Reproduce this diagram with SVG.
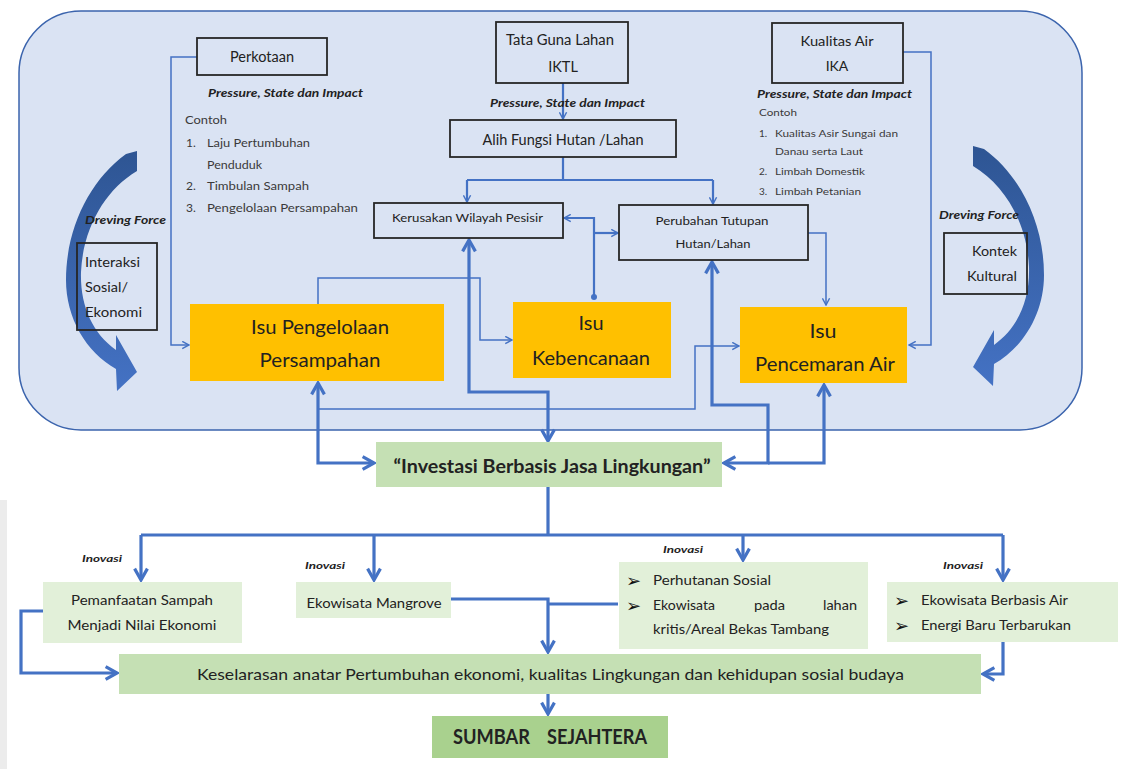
<svg xmlns="http://www.w3.org/2000/svg" width="1127" height="769" viewBox="0 0 1127 769">
  <defs>
    <style>
      .t { font-family: Lato, "Open Sans", "Liberation Sans", sans-serif; fill: #222; }
      .sm { fill: #3a3a3a; }
      .pi { font-weight: bold; font-style: italic; font-size: 12px; fill: #222; }
      .box { fill: none; stroke: #262626; stroke-width: 1.8; }
      .orange { fill: #ffc000; }
      .green { fill: #c5e0b4; }
      .lgreen { fill: #e2f0d9; }
      .dgreen { fill: #a9d18e; }
      .c1 { fill: none; stroke: #4472c4; stroke-width: 1.5; }
      .c2 { fill: none; stroke: #4472c4; stroke-width: 2.2; }
      .c3 { fill: none; stroke: #4472c4; stroke-width: 3.2; }
      .bul { font-family: "DejaVu Sans", sans-serif; font-size: 18px; font-weight: bold; fill: #111; }
    </style>
    <marker id="ah1" viewBox="0 0 10 10" refX="9" refY="5" markerWidth="9" markerHeight="9" orient="auto-start-reverse" markerUnits="userSpaceOnUse">
      <path d="M1.5,1 L9,5 L1.5,9" fill="none" stroke="#4472c4" stroke-width="1.6"/>
    </marker>
    <marker id="ah3" viewBox="0 0 10 10" refX="8.6" refY="5" markerWidth="16" markerHeight="16" orient="auto-start-reverse" markerUnits="userSpaceOnUse">
      <path d="M1.5,1 L8.6,5 L1.5,9" fill="none" stroke="#4472c4" stroke-width="2"/>
    </marker>
    <linearGradient id="bend" x1="0" y1="0" x2="0" y2="1">
      <stop offset="0" stop-color="#2e5593"/>
      <stop offset="1" stop-color="#4472c4"/>
    </linearGradient>
  </defs>

  <rect width="1127" height="769" fill="#ffffff"/>
  <rect x="0" y="500" width="7" height="269" fill="#ececec"/>

  <!-- frame around the issue area -->
  <rect id="frame" x="19" y="11" width="1063" height="419" rx="62" fill="#dae3f3" stroke="#3b64ad" stroke-width="1.5"/>

  <!-- driving force bends -->
  <g id="driving-left">
    <path d="M126,154 L137,151 L137,171 C105,190 83,228 81,272 C80,305 92,333 116,350 L116,335 L137,372 L117,391 L116,369 C86,352 66,318 66,280 C66,228 90,180 126,154 Z" fill="url(#bend)"/>
    <text class="t pi" x="85" y="224" textLength="81" lengthAdjust="spacingAndGlyphs">Dreving Force</text>
  </g>
  <g id="driving-right">
    <path d="M126,154 L137,151 L137,171 C105,190 83,228 81,272 C80,305 92,333 116,350 L116,335 L137,372 L117,391 L116,369 C86,352 66,318 66,280 C66,228 90,180 126,154 Z" fill="url(#bend)" transform="matrix(-1 0 0 1 1110 -5)"/>
    <text class="t pi" x="939" y="219" textLength="80" lengthAdjust="spacingAndGlyphs">Dreving Force</text>
  </g>

  <!-- connectors -->
  <g id="connectors">
    <path class="c1" d="M197,57 H171 V345 H189" marker-end="url(#ah1)"/>
    <path class="c2" d="M563,83 V119" marker-end="url(#ah1)"/>
    <path class="c2" d="M563,157 V180 M467,180 H713"/>
    <path class="c2" d="M467,180 V202" marker-end="url(#ah1)"/>
    <path class="c2" d="M713,180 V204" marker-end="url(#ah1)"/>
    <path class="c1" d="M903,52 H931 V345 H909" marker-end="url(#ah1)"/>
    <path class="c1" d="M808,233 H826 V305" marker-end="url(#ah1)"/>
    <path class="c1" d="M318,304 V278 H480 V340 H512" marker-end="url(#ah1)"/>
    <path class="c1" d="M318,409 H695 V346 H739" marker-end="url(#ah1)"/>
    <path class="c2" d="M594,297 V218 H564" marker-end="url(#ah1)"/>
    <path class="c2" d="M594,233 H618" marker-end="url(#ah1)"/>
    <circle cx="594" cy="297" r="3" fill="#4472c4"/>
    <path class="c3" d="M469,240 V392 H548 V441" marker-start="url(#ah3)" marker-end="url(#ah3)"/>
    <path class="c3" d="M712,262 V405 H768 V463 H724" marker-start="url(#ah3)" marker-end="url(#ah3)"/>
    <path class="c3" d="M824,385 V463 H768" marker-start="url(#ah3)"/>
    <path class="c3" d="M318,383 V463 H374" marker-start="url(#ah3)" marker-end="url(#ah3)"/>
    <path class="c3" d="M548,487 V535 M141,535 H1003"/>
    <path class="c3" d="M141,535 V580" marker-end="url(#ah3)"/>
    <path class="c3" d="M374,535 V580" marker-end="url(#ah3)"/>
    <path class="c3" d="M743,535 V560" marker-end="url(#ah3)"/>
    <path class="c3" d="M1003,535 V580" marker-end="url(#ah3)"/>
    <path class="c3" d="M43,611 H21 V673 H117" marker-end="url(#ah3)"/>
    <path class="c3" d="M451,599 H548 V652" marker-end="url(#ah3)"/>
    <path class="c3" d="M618,604 H548"/>
    <path class="c3" d="M1003,642 V674 H983" marker-end="url(#ah3)"/>
    <path class="c3" d="M548,694 V714" marker-end="url(#ah3)"/>
  </g>

  <!-- source nodes -->
  <g id="perkotaan">
    <rect class="box" x="197" y="38" width="130" height="37"/>
    <text class="t" x="262" y="62" font-size="14.5" text-anchor="middle" textLength="64" lengthAdjust="spacingAndGlyphs">Perkotaan</text>
  </g>
  <g id="perkotaan-notes">
    <text class="t pi" x="208" y="97" textLength="155" lengthAdjust="spacingAndGlyphs">Pressure, State dan Impact</text>
    <text class="t sm" x="185" y="124" font-size="12" textLength="42" lengthAdjust="spacingAndGlyphs">Contoh</text>
    <text class="t sm" x="186" y="147" font-size="12">1.</text>
    <text class="t sm" x="207" y="147" font-size="12" textLength="103" lengthAdjust="spacingAndGlyphs">Laju Pertumbuhan</text>
    <text class="t sm" x="207" y="169" font-size="12" textLength="55" lengthAdjust="spacingAndGlyphs">Penduduk</text>
    <text class="t sm" x="186" y="190" font-size="12">2.</text>
    <text class="t sm" x="207" y="190" font-size="12" textLength="102" lengthAdjust="spacingAndGlyphs">Timbulan Sampah</text>
    <text class="t sm" x="186" y="212" font-size="12">3.</text>
    <text class="t sm" x="207" y="212" font-size="12" textLength="151" lengthAdjust="spacingAndGlyphs">Pengelolaan Persampahan</text>
  </g>

  <g id="tata-guna-lahan">
    <rect class="box" x="496" y="22" width="132" height="61"/>
    <text class="t" x="560" y="45" font-size="14.5" text-anchor="middle" textLength="108" lengthAdjust="spacingAndGlyphs">Tata Guna Lahan</text>
    <text class="t" x="563" y="72" font-size="14.5" text-anchor="middle">IKTL</text>
  </g>
  <text class="t pi" x="490" y="107" textLength="155" lengthAdjust="spacingAndGlyphs">Pressure, State dan Impact</text>

  <g id="alih-fungsi">
    <rect class="box" x="450" y="120" width="226" height="37"/>
    <text class="t" x="563" y="145" font-size="14.5" text-anchor="middle" textLength="161" lengthAdjust="spacingAndGlyphs">Alih Fungsi Hutan /Lahan</text>
  </g>

  <g id="kerusakan-pesisir">
    <rect class="box" x="374" y="203" width="189" height="35"/>
    <text class="t" x="392" y="222" font-size="12" textLength="151" lengthAdjust="spacingAndGlyphs">Kerusakan Wilayah Pesisir</text>
  </g>

  <g id="perubahan-tutupan">
    <rect class="box" x="619" y="205" width="189" height="55"/>
    <text class="t" x="712" y="225" font-size="12" text-anchor="middle" textLength="113" lengthAdjust="spacingAndGlyphs">Perubahan Tutupan</text>
    <text class="t" x="713" y="248" font-size="12" text-anchor="middle" textLength="75" lengthAdjust="spacingAndGlyphs">Hutan/Lahan</text>
  </g>

  <g id="kualitas-air">
    <rect class="box" x="772" y="23" width="131" height="60"/>
    <text class="t" x="837" y="46" font-size="14" text-anchor="middle" textLength="73" lengthAdjust="spacingAndGlyphs">Kualitas Air</text>
    <text class="t" x="837" y="71" font-size="14" text-anchor="middle">IKA</text>
  </g>
  <g id="kualitas-air-notes">
    <text class="t pi" x="757" y="98" textLength="155" lengthAdjust="spacingAndGlyphs">Pressure, State dan Impact</text>
    <text class="t sm" x="759" y="116" font-size="10" textLength="38" lengthAdjust="spacingAndGlyphs">Contoh</text>
    <text class="t sm" x="759" y="137" font-size="10">1.</text>
    <text class="t sm" x="775" y="137" font-size="10" textLength="123" lengthAdjust="spacingAndGlyphs">Kualitas Asir Sungai dan</text>
    <text class="t sm" x="775" y="155" font-size="10" textLength="88" lengthAdjust="spacingAndGlyphs">Danau serta Laut</text>
    <text class="t sm" x="759" y="175" font-size="10">2.</text>
    <text class="t sm" x="775" y="175" font-size="10" textLength="90" lengthAdjust="spacingAndGlyphs">Limbah Domestik</text>
    <text class="t sm" x="759" y="195" font-size="10">3.</text>
    <text class="t sm" x="775" y="195" font-size="10" textLength="86" lengthAdjust="spacingAndGlyphs">Limbah Petanian</text>
  </g>

  <g id="interaksi">
    <rect class="box" x="77" y="243" width="80" height="87"/>
    <text class="t" x="85" y="267" font-size="14" textLength="55" lengthAdjust="spacingAndGlyphs">Interaksi</text>
    <text class="t" x="85" y="292" font-size="14" textLength="43" lengthAdjust="spacingAndGlyphs">Sosial/</text>
    <text class="t" x="85" y="317" font-size="14" textLength="57" lengthAdjust="spacingAndGlyphs">Ekonomi</text>
  </g>

  <g id="kontek-kultural">
    <rect class="box" x="944" y="233" width="83" height="61"/>
    <text class="t" x="1017" y="256" font-size="14" text-anchor="end" textLength="45" lengthAdjust="spacingAndGlyphs">Kontek</text>
    <text class="t" x="1017" y="281" font-size="14" text-anchor="end" textLength="50" lengthAdjust="spacingAndGlyphs">Kultural</text>
  </g>

  <!-- issues -->
  <g id="isu-persampahan">
    <rect class="orange" x="190" y="304" width="254" height="77"/>
    <text class="t" x="320" y="334" font-size="20" text-anchor="middle" textLength="138" lengthAdjust="spacingAndGlyphs">Isu Pengelolaan</text>
    <text class="t" x="320" y="367" font-size="20" text-anchor="middle" textLength="121" lengthAdjust="spacingAndGlyphs">Persampahan</text>
  </g>
  <g id="isu-kebencanaan">
    <rect class="orange" x="513" y="302" width="158" height="76"/>
    <text class="t" x="591" y="330" font-size="20" text-anchor="middle" textLength="25" lengthAdjust="spacingAndGlyphs">Isu</text>
    <text class="t" x="591" y="365" font-size="20" text-anchor="middle" textLength="118" lengthAdjust="spacingAndGlyphs">Kebencanaan</text>
  </g>
  <g id="isu-pencemaran">
    <rect class="orange" x="740" y="307" width="167" height="76"/>
    <text class="t" x="823" y="338" font-size="20" text-anchor="middle" textLength="27" lengthAdjust="spacingAndGlyphs">Isu</text>
    <text class="t" x="825" y="371" font-size="20" text-anchor="middle" textLength="140" lengthAdjust="spacingAndGlyphs">Pencemaran Air</text>
  </g>

  <g id="investasi">
    <rect class="green" x="376" y="442" width="346" height="45"/>
    <text class="t" x="552" y="473" font-size="19" font-weight="bold" text-anchor="middle" textLength="317" lengthAdjust="spacingAndGlyphs">“Investasi Berbasis Jasa Lingkungan”</text>
  </g>

  <!-- innovations -->
  <g id="inovasi-sampah">
    <text class="t pi" x="82" y="562" style="font-size:10px" textLength="40" lengthAdjust="spacingAndGlyphs">Inovasi</text>
    <rect class="lgreen" x="43" y="582" width="199" height="61"/>
    <text class="t" x="142" y="605" font-size="14" text-anchor="middle" textLength="142" lengthAdjust="spacingAndGlyphs">Pemanfaatan Sampah</text>
    <text class="t" x="142" y="630" font-size="14" text-anchor="middle" textLength="149" lengthAdjust="spacingAndGlyphs">Menjadi Nilai Ekonomi</text>
  </g>
  <g id="inovasi-mangrove">
    <text class="t pi" x="305" y="569" style="font-size:10px" textLength="40" lengthAdjust="spacingAndGlyphs">Inovasi</text>
    <rect class="lgreen" x="296" y="582" width="155" height="36"/>
    <text class="t" x="374" y="608" font-size="14" text-anchor="middle" textLength="135" lengthAdjust="spacingAndGlyphs">Ekowisata Mangrove</text>
  </g>
  <g id="inovasi-hutan">
    <text class="t pi" x="663" y="553" style="font-size:10px" textLength="40" lengthAdjust="spacingAndGlyphs">Inovasi</text>
    <rect class="lgreen" x="619" y="562" width="249" height="87"/>
    <text class="bul" x="626" y="587">➢</text>
    <text class="t" x="653" y="585" font-size="13.5" textLength="118" lengthAdjust="spacingAndGlyphs">Perhutanan Sosial</text>
    <text class="bul" x="626" y="612">➢</text>
    <text class="t" x="653" y="610" font-size="13.5" textLength="62" lengthAdjust="spacingAndGlyphs">Ekowisata</text>
    <text class="t" x="754" y="610" font-size="13.5" textLength="31" lengthAdjust="spacingAndGlyphs">pada</text>
    <text class="t" x="857" y="610" font-size="13.5" text-anchor="end" textLength="34" lengthAdjust="spacingAndGlyphs">lahan</text>
    <text class="t" x="653" y="634" font-size="13.5" textLength="176" lengthAdjust="spacingAndGlyphs">kritis/Areal Bekas Tambang</text>
  </g>
  <g id="inovasi-air">
    <text class="t pi" x="943" y="569" style="font-size:10px" textLength="40" lengthAdjust="spacingAndGlyphs">Inovasi</text>
    <rect class="lgreen" x="887" y="582" width="231" height="60"/>
    <text class="bul" x="894" y="607">➢</text>
    <text class="t" x="921" y="605" font-size="13.5" textLength="147" lengthAdjust="spacingAndGlyphs">Ekowisata Berbasis Air</text>
    <text class="bul" x="894" y="632">➢</text>
    <text class="t" x="921" y="630" font-size="13.5" textLength="150" lengthAdjust="spacingAndGlyphs">Energi Baru Terbarukan</text>
  </g>

  <g id="keselarasan">
    <rect class="green" x="119" y="654" width="862" height="40"/>
    <text class="t" x="197" y="680" font-size="16" textLength="707" lengthAdjust="spacingAndGlyphs">Keselarasan anatar Pertumbuhan ekonomi, kualitas Lingkungan dan kehidupan sosial budaya</text>
  </g>

  <g id="sumbar-sejahtera">
    <rect class="dgreen" x="432" y="716" width="236" height="42"/>
    <text class="t" x="453" y="744" font-size="20" font-weight="bold" textLength="77" lengthAdjust="spacingAndGlyphs">SUMBAR</text>
    <text class="t" x="547" y="744" font-size="20" font-weight="bold" textLength="100" lengthAdjust="spacingAndGlyphs">SEJAHTERA</text>
  </g>
</svg>
